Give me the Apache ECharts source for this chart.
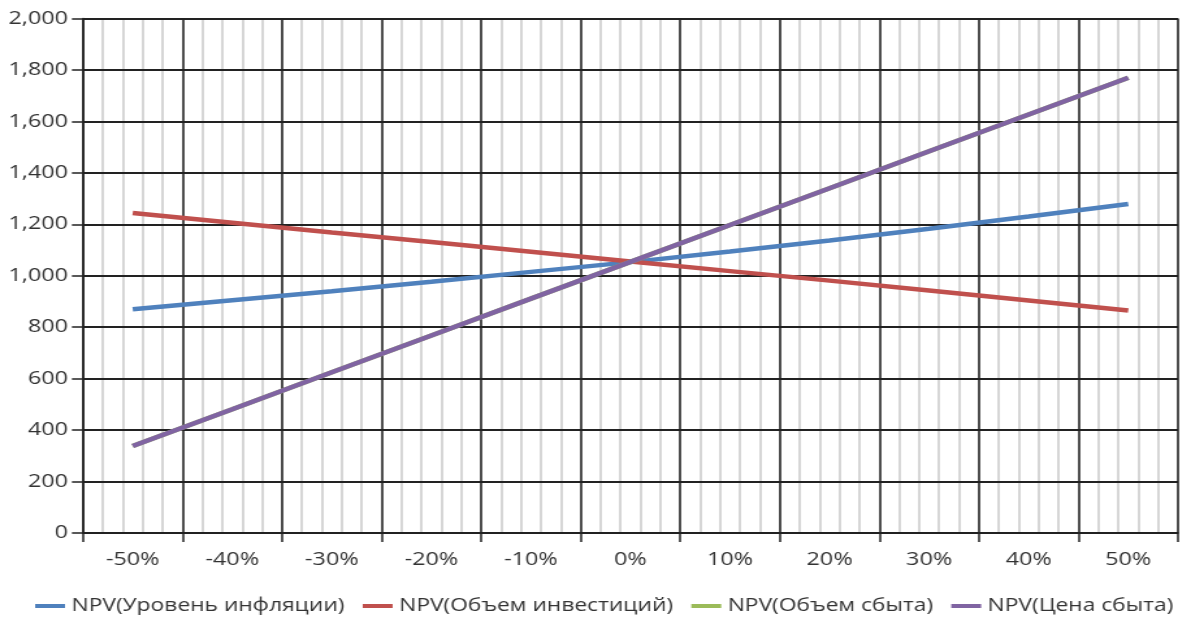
<!DOCTYPE html>
<html>
<head>
<meta charset="utf-8">
<script src="https://cdn.jsdelivr.net/npm/echarts@6/dist/echarts.min.js"></script>
<style>
  html, body { margin: 0; padding: 0; background: #fff; overflow: hidden; }
  #wrap { width: 1191px; height: 623px; overflow: hidden; }
  /* the chart is laid out narrower and widened to fill the page */
  #chart { width: 916px; height: 623px; transform-origin: 0 0; transform: scaleX(1.30022); }
</style>
</head>
<body>
<div id="wrap"><div id="chart"></div></div>
<script>
// Change of each factor, %
const categories = ['-50%', '-40%', '-30%', '-20%', '-10%', '0%', '10%', '20%', '30%', '40%', '50%'];

// NPV for each factor's change
const npvInflation  = [870, 905, 940, 977, 1015, 1053, 1094, 1137, 1183, 1230, 1279];
const npvInvestment = [1244, 1206, 1168, 1131, 1093, 1055, 1018, 981, 943, 904, 865];
const npvSalesVolume = [338, 481, 625, 768, 911, 1054, 1197, 1340, 1484, 1627, 1770];
const npvSalesPrice  = [338, 481, 625, 768, 911, 1054, 1197, 1340, 1484, 1627, 1770];

const seriesNames = [
  'NPV(Уровень инфляции)',
  'NPV(Объем инвестиций)',
  'NPV(Объем сбыта)',
  'NPV(Цена сбыта)'
];
const seriesColors = ['#4F81BD', '#C0504D', '#9BBB59', '#8064A2'];

const yMin = 0, yMax = 2000, yStep = 200;

const chart = echarts.init(document.getElementById('chart'));
const font = '"Open Sans", "DejaVu Sans", sans-serif';

function lineSeries(name, data, color) {
  return {
    name: name,
    type: 'line',
    data: data,
    xAxisIndex: 0,
    symbol: 'none',
    lineStyle: { color: color, width: 4.5, cap: 'butt' },
    itemStyle: { color: color },
    emphasis: { disabled: true },
    animation: false
  };
}

chart.setOption({
  animation: false,
  color: seriesColors,
  grid: { left: 63.8, right: 10, top: 18.5, bottom: 90, containLabel: false },
  legend: {
    bottom: 3,
    left: 22,
    icon: 'rect',
    itemWidth: 23,
    itemHeight: 4,
    itemGap: 14,
    textStyle: { fontFamily: font, fontSize: 17.5, color: '#333' },
    data: seriesNames
  },
  xAxis: [
    {
      type: 'category',
      data: categories,
      boundaryGap: true,
      z: 3,
      axisLine: { show: true, lineStyle: { color: '#222', width: 1.5 } },
      axisTick: { show: true, length: 9, lineStyle: { color: '#222', width: 1.5 } },
      axisLabel: { fontFamily: font, fontSize: 18, color: '#333', margin: 18 },
      splitLine: { show: true, lineStyle: { color: '#222', width: 1.5 } }
    },
    {
      // fine vertical rules, five per category
      type: 'value',
      min: 0,
      max: 55,
      interval: 1,
      position: 'bottom',
      z: 1,
      axisLine: { show: false },
      axisTick: { show: false },
      axisLabel: { show: false },
      splitLine: { show: true, lineStyle: { color: '#d2d2d2', width: 1.8 } }
    }
  ],
  yAxis: {
    type: 'value',
    min: yMin,
    max: yMax,
    interval: yStep,
    z: 3,
    axisLine: { show: true, lineStyle: { color: '#222', width: 1.5 } },
    axisTick: { show: true, length: 8.5, lineStyle: { color: '#222', width: 1.5 } },
    axisLabel: {
      fontFamily: font, fontSize: 18, color: '#333', margin: 11.5,
      formatter: v => v.toLocaleString('en-US')
    },
    splitLine: { show: true, lineStyle: { color: '#222', width: 1.8 } }
  },
  series: [
    lineSeries(seriesNames[0], npvInflation, seriesColors[0]),
    lineSeries(seriesNames[1], npvInvestment, seriesColors[1]),
    lineSeries(seriesNames[2], npvSalesVolume, seriesColors[2]),
    lineSeries(seriesNames[3], npvSalesPrice, seriesColors[3])
  ]
});
</script>
</body>
</html>
